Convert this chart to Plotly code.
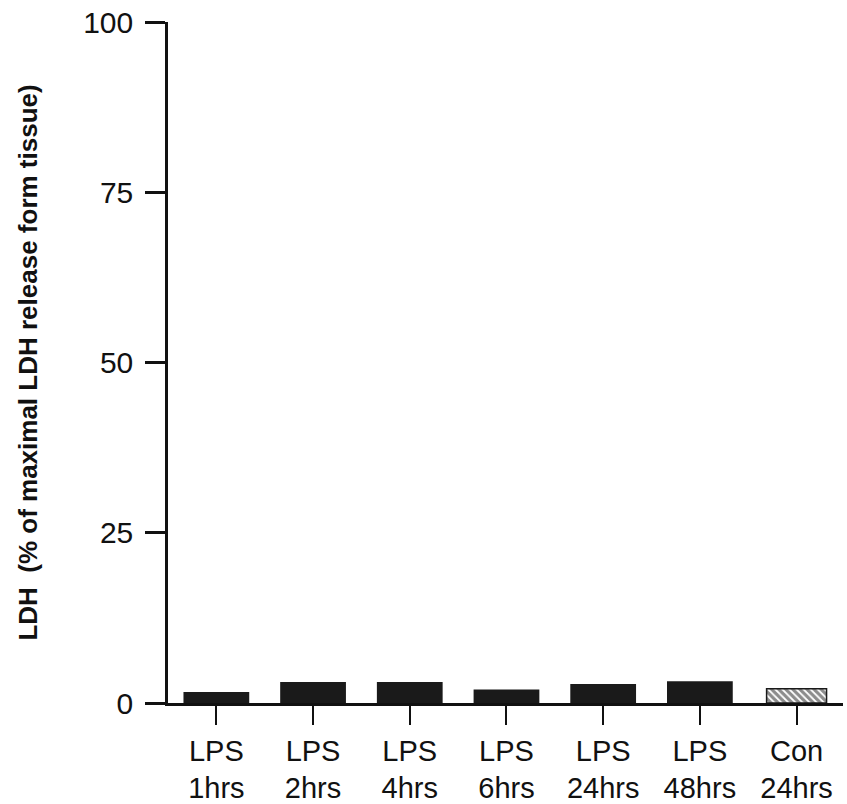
import plotly.graph_objects as go

categories = ["LPS<br>1hrs", "LPS<br>2hrs", "LPS<br>4hrs", "LPS<br>6hrs", "LPS<br>24hrs", "LPS<br>48hrs", "Con<br>24hrs"]
ldh_values = [1.6, 3.1, 3.1, 2.0, 2.8, 3.2, 2.1]
y_ticks = [0, 25, 50, 75, 100]

solid = "#1a1a1a"
fig = go.Figure()
fig.add_trace(go.Bar(
    x=categories[:6], y=ldh_values[:6], width=0.68,
    marker=dict(color=solid, line=dict(width=0)),
))
fig.add_trace(go.Bar(
    x=categories[6:], y=ldh_values[6:], width=0.62,
    marker=dict(color="white", line=dict(color=solid, width=1.5),
                pattern=dict(shape="\\", fgcolor=solid, bgcolor="white", size=5, solidity=0.65)),
))
fig.update_layout(
    width=847, height=804,
    margin=dict(l=168, r=4, t=22, b=101),
    paper_bgcolor="white", plot_bgcolor="white",
    showlegend=False, barmode="overlay",
    font=dict(family="Liberation Sans, Arial, sans-serif", color="#111", size=29),
)
fig.update_xaxes(
    type="category", categoryorder="array", categoryarray=categories,
    range=[-0.5, 6.48], automargin=False,
    showline=True, linecolor="#111", linewidth=2.5,
    ticks="outside", ticklen=19, tickwidth=2, tickcolor="#111",
    tickfont=dict(size=29), ticklabelstandoff=1, showgrid=False, zeroline=False,
)
fig.update_yaxes(
    range=[0, 100], tickvals=y_ticks, ticktext=[str(v) for v in y_ticks],
    automargin=False,
    showline=True, linecolor="#111", linewidth=2.5,
    ticks="outside", ticklen=20, tickwidth=2.5, tickcolor="#111",
    tickfont=dict(size=30), ticklabelstandoff=6, showgrid=False, zeroline=False,
    title=dict(text="<b>LDH  (% of maximal LDH release form tissue)</b>", font=dict(size=26), standoff=39),
)
fig.write_html("out.html")
